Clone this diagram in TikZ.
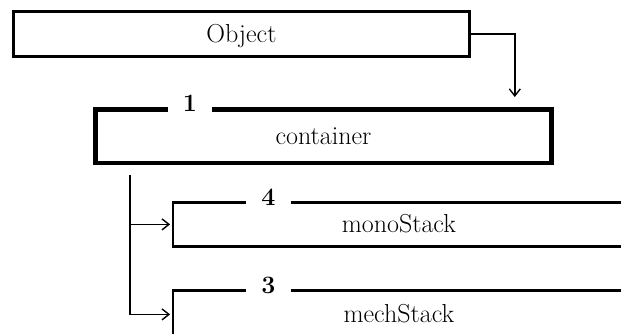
\documentclass[tikz,border=0pt]{standalone}
\usetikzlibrary{arrows.meta,calc}
\begin{document}
\begin{tikzpicture}[x=1pt,y=-1pt,
  every node/.style={font=\fontsize{26}{30}\selectfont},
  box/.style={draw, rectangle, anchor=north west, inner sep=0pt,
    text height=1.7em, text depth=0pt},
  thinbox/.style={box, line width=2.8pt},
  thickbox/.style={box, line width=4.8pt},
  numlabel/.style={fill=white, inner xsep=15pt, inner ysep=3pt,
    font=\fontsize{25}{30}\selectfont\bfseries},
  conn/.style={line width=1.6pt},
  tip/.style={-{Straight Barb[length=7pt,width=11pt,line width=1.4pt]}}
]
\useasboundingbox (0,0) rectangle (621,334);
\clip (0,0) rectangle (621,334);

\node[thinbox, minimum width=456pt, minimum height=45pt] (obj) at (12,10) {Object};
\node[thickbox, minimum width=456pt, minimum height=53.5pt] (cont) at (93,107) {container};
\node[thinbox, minimum width=452pt, minimum height=44pt] (mono) at (171.5,201) {monoStack};
\node[thinbox, minimum width=452pt, minimum height=48pt] (mech) at (171.5,289) {mechStack};

\node[numlabel] (l1) at ($(cont.north west)+(97,-4)$) {1};
\node[numlabel] (l4) at ($(mono.north west)+(97,-4)$) {4};
\node[numlabel] (l3) at ($(mech.north west)+(97,-4)$) {3};

\coordinate (cin) at ($(cont.north east)+(-39,0)$);
\draw[conn, tip, shorten >=10pt] (obj.east) -| (cin);

\coordinate (t0) at ($(cont.south west)+(37,10)$);
\draw[conn, tip, shorten >=1.4pt] (t0) |- (mono.west);
\draw[conn, tip, shorten >=1.4pt] (t0) |- (mech.west);
\end{tikzpicture}
\end{document}
